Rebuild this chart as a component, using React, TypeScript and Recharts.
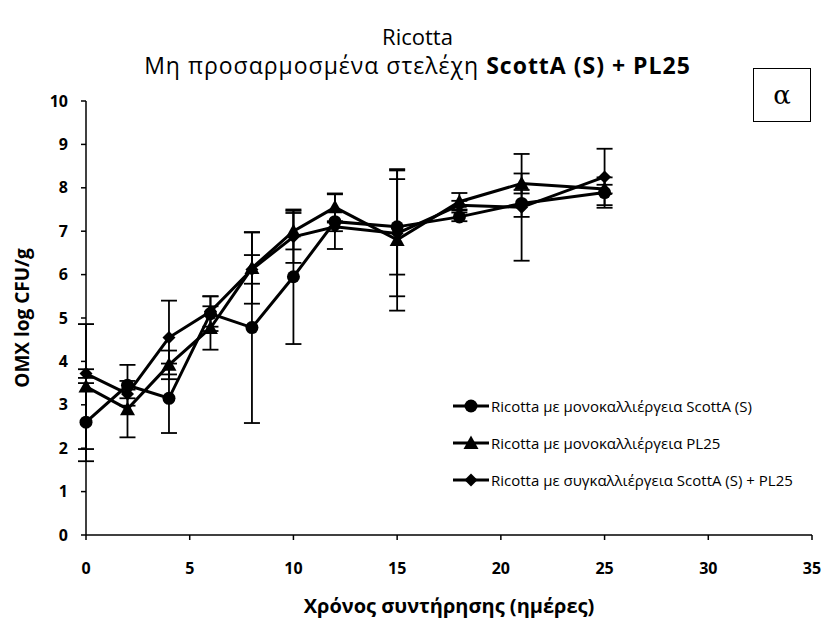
import { LineChart, Line, XAxis, YAxis, ErrorBar } from 'recharts'

// storage days
const days = [0, 2, 4, 6, 8, 10, 12, 15, 18, 21, 25]

// log CFU/g and standard deviations
const scottA = [2.6, 3.45, 3.15, 5.1, 4.78, 5.95, 7.22, 7.1, 7.33, 7.64, 7.89]
const scottAErr = [0.9, 0.47, 0.8, 0.4, 2.2, 1.55, 0.63, 1.1, 0.1, 0.31, 0.35]
const pl25 = [3.42, 2.9, 3.92, 4.77, 6.15, 7.0, 7.55, 6.8, 7.68, 8.1, 7.97]
const pl25Err = [1.44, 0.65, 0.33, 0.5, 0.82, 0.42, 0.32, 1.63, 0.2, 0.23, 0.1]
const cocult = [3.72, 3.25, 4.55, 5.15, 6.12, 6.87, 7.1, 6.95, 7.6, 7.55, 8.25]
const cocultErr = [0.1, 0.1, 0.85, 0.35, 0.33, 0.6, 0.1, 1.45, 0.1, 1.23, 0.65]

const xTicks = [0, 5, 10, 15, 20, 25, 30, 35]
const yTicks = [0, 1, 2, 3, 4, 5, 6, 7, 8, 9, 10]

const seriesNames = [
  'Ricotta με μονοκαλλιέργεια ScottA (S)',
  'Ricotta με μονοκαλλιέργεια PL25',
  'Ricotta με συγκαλλιέργεια ScottA (S) + PL25',
]

const data = days.map((d, i) => ({
  day: d,
  s: scottA[i],
  sErr: scottAErr[i],
  p: pl25[i],
  pErr: pl25Err[i],
  c: cocult[i],
  cErr: cocultErr[i],
}))

const FONT = '"Open Sans", "Noto Sans", sans-serif'

function Marker({ kind, cx, cy }: { kind: string; cx: number; cy: number }) {
  if (kind === 'circle') return <circle cx={cx} cy={cy} r={6.5} fill="#000" />
  if (kind === 'triangle')
    return <polygon points={`${cx},${cy - 7.5} ${cx + 7.5},${cy + 6} ${cx - 7.5},${cy + 6}`} fill="#000" />
  return <polygon points={`${cx},${cy - 6.5} ${cx + 6.5},${cy} ${cx},${cy + 6.5} ${cx - 6.5},${cy}`} fill="#000" />
}

const dotFor = (kind: string) => (props: any) => (
  <Marker key={`${kind}-${props.index}`} kind={kind} cx={props.cx} cy={props.cy} />
)

const kinds = ['circle', 'triangle', 'diamond']

function LegendBox() {
  return (
    <div style={{ position: 'absolute', left: 452, top: 387, fontFamily: FONT, fontSize: 15, color: '#000' }}>
      {seriesNames.map((n, i) => (
        <div key={n} style={{ display: 'flex', alignItems: 'center', height: 37, whiteSpace: 'nowrap' }}>
          <svg width={38} height={16} style={{ marginRight: 1 }}>
            <line x1={1} y1={8} x2={37} y2={8} stroke="#000" strokeWidth={3} />
            <Marker kind={kinds[i]} cx={19} cy={8} />
          </svg>
          <span>{n}</span>
        </div>
      ))}
    </div>
  )
}

export default function App() {
  const tick = { fill: '#000', fontSize: 16, fontWeight: 700, fontFamily: FONT }
  const titleStyle = { position: 'absolute' as const, left: 0, width: 835, textAlign: 'center' as const, fontFamily: FONT, whiteSpace: 'nowrap' as const }
  return (
    <div style={{ position: 'absolute', left: 0, top: 0, width: 825, height: 620, background: '#fff' }}>
      <div style={{ ...titleStyle, top: 22, fontSize: 22, lineHeight: '28px' }}>Ricotta</div>
      <div style={{ ...titleStyle, top: 51, fontSize: 23, lineHeight: '28px', letterSpacing: 1 }}>
        Μη προσαρμοσμένα στελέχη <b>ScottA (S) + PL25</b>
      </div>
      <div style={{ position: 'absolute', left: 753, top: 68, width: 56, height: 52, border: '1.5px solid #000', display: 'flex', alignItems: 'center', justifyContent: 'center', fontFamily: '"DejaVu Serif", serif', fontSize: 26 }}>
        α
      </div>
      <LineChart width={825} height={620} data={data} margin={{ top: 101, right: 13, bottom: 55, left: 46 }}>
        <XAxis
          dataKey="day"
          type="number"
          domain={[0, 35]}
          ticks={xTicks}
          tick={tick}
          tickMargin={23}
          tickSize={5}
          height={30}
          stroke="#000"
          strokeWidth={1.5}
        />
        <YAxis
          type="number"
          domain={[0, 10]}
          ticks={yTicks}
          tick={tick}
          tickMargin={13}
          tickSize={5}
          width={40}
          stroke="#000"
          strokeWidth={1.5}
        />
        <Line dataKey="s" stroke="#000" strokeWidth={3} dot={dotFor('circle')} activeDot={false} isAnimationActive={false}>
          <ErrorBar dataKey="sErr" width={8} stroke="#000" strokeWidth={1.8} direction="y" />
        </Line>
        <Line dataKey="p" stroke="#000" strokeWidth={3} dot={dotFor('triangle')} activeDot={false} isAnimationActive={false}>
          <ErrorBar dataKey="pErr" width={8} stroke="#000" strokeWidth={1.8} direction="y" />
        </Line>
        <Line dataKey="c" stroke="#000" strokeWidth={3} dot={dotFor('diamond')} activeDot={false} isAnimationActive={false}>
          <ErrorBar dataKey="cErr" width={8} stroke="#000" strokeWidth={1.8} direction="y" />
        </Line>
      </LineChart>
      <LegendBox />
      <div style={{ position: 'absolute', left: 86, top: 592, width: 726, textAlign: 'center', fontFamily: FONT, fontSize: 20, fontWeight: 700 }}>
        Χρόνος συντήρησης (ημέρες)
      </div>
      <div style={{ position: 'absolute', left: 22, top: 318, transform: 'translate(-50%, -50%) rotate(-90deg)', whiteSpace: 'nowrap', fontFamily: FONT, fontSize: 19, fontWeight: 700 }}>
        OMX log CFU/g
      </div>
    </div>
  )
}
